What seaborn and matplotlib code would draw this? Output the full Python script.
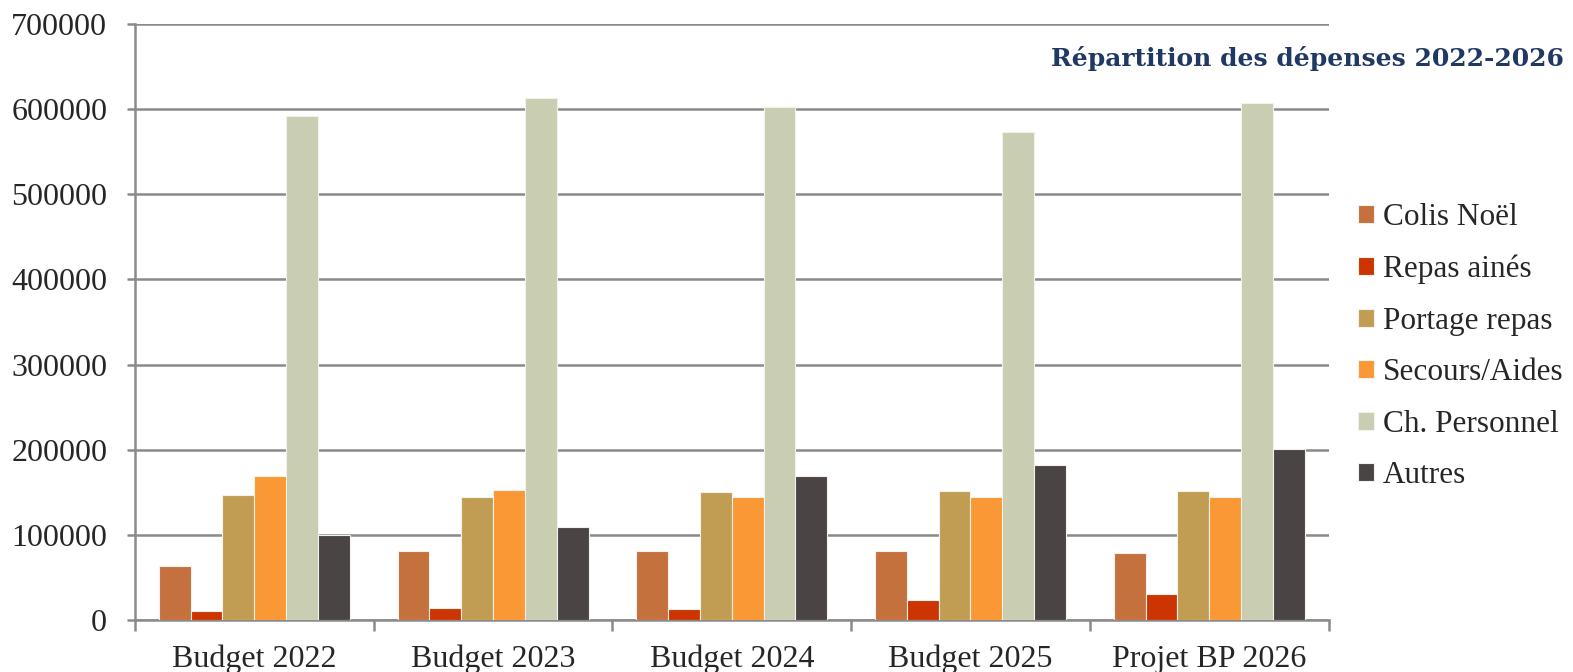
import numpy as np
import pandas as pd
import seaborn as sns
from matplotlib import pyplot as plt

categories = ['Budget 2022', 'Budget 2023', 'Budget 2024', 'Budget 2025', 'Projet BP 2026']
series = ['Colis Noël', 'Repas ainés', 'Portage repas', 'Secours/Aides', 'Ch. Personnel', 'Autres']
colis = [63000, 81000, 81000, 81000, 79000]
repas = [11000, 14000, 13000, 23000, 31000]
portage = [147000, 144000, 150000, 152000, 151000]
secours = [169000, 153000, 145000, 145000, 145000]
personnel = [592000, 613000, 603000, 573000, 607000]
autres = [100000, 109000, 169000, 182000, 201000]
colors = ['#C5713E', '#CC3502', '#C19D53', '#FA9836', '#C9CDB2', '#4A4544']

values = [colis, repas, portage, secours, personnel, autres]
rows = []
for name, vals in zip(series, values):
    for cat, v in zip(categories, vals):
        rows.append({'Budget': cat, 'Poste': name, 'Montant': v})
df = pd.DataFrame(rows)

sns.set_style('white')
plt.rcParams['font.family'] = ['Liberation Serif', 'DejaVu Serif']

fig = plt.figure(figsize=(15.73, 6.72), dpi=100)
ax = fig.add_axes([0.0858, 0.0774, 0.7588, 0.8869])

sns.barplot(data=df, x='Budget', y='Montant', hue='Poste', order=categories,
            hue_order=series, palette=colors, saturation=1, width=0.8, ax=ax,
            edgecolor='#F4F0EA', linewidth=0.8, errorbar=None, zorder=3)

grid_c = '#8A8A8A'
ax.set_ylim(0, 700000)
ax.set_yticks(np.arange(0, 700001, 100000))
ax.yaxis.grid(True, color=grid_c, linewidth=1.8, zorder=0)
ax.set_axisbelow(True)
for s in ['top', 'right']:
    ax.spines[s].set_visible(False)
for s in ['left', 'bottom']:
    ax.spines[s].set_color(grid_c)
    ax.spines[s].set_linewidth(1.8)

ax.set_xlim(-0.5, len(categories) - 0.5)
ax.set_xticks(np.arange(-0.5, len(categories)), labels=[''] * (len(categories) + 1))
ax.set_xticks(np.arange(len(categories)), labels=categories, minor=True)
ax.tick_params(axis='x', which='major', direction='out', length=8, width=1.8, color=grid_c, bottom=True)
ax.tick_params(axis='x', which='minor', length=0, pad=18, labelsize=23)
ax.tick_params(axis='y', direction='out', length=6, width=1.8, color=grid_c, left=True, pad=14, labelsize=23)
ax.set_xlabel('')
ax.set_ylabel('')

ax.legend(loc='upper left', bbox_to_anchor=(0.8555, 0.716), bbox_transform=fig.transFigure,
          frameon=False, fontsize=22.5, handlelength=0.5, handleheight=0.5,
          handletextpad=0.3, labelspacing=0.72, borderaxespad=0)

fig.text(0.9945, 0.913, 'Répartition des dépenses 2022-2026', ha='right', va='center',
         fontsize=18, fontweight='bold', color='#1F3864', family=['DejaVu Serif'])

fig.savefig('out.png', dpi=100)
